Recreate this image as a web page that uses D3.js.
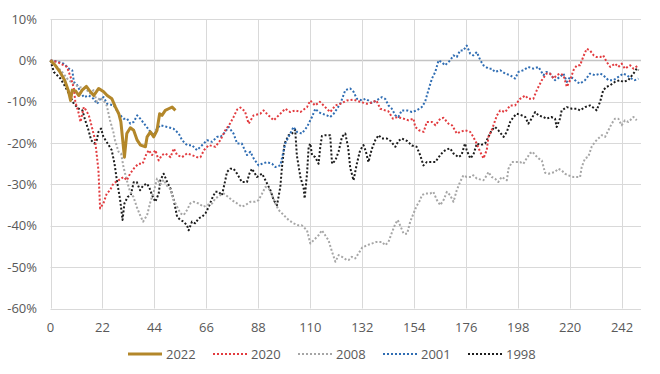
<!DOCTYPE html>
<html>
<head>
<meta charset="utf-8">
<script src="https://cdn.jsdelivr.net/npm/d3@7"></script>
<style>
  body { margin: 0; background: #fff; }
  svg text { font-family: "Open Sans", sans-serif; fill: #595959; }
</style>
</head>
<body>
<div id="chart"></div>
<script>
var width = 660;
var height = 374;

// x ticks (trading days) and y ticks (%)
var xTicks = [0, 22, 44, 66, 88, 110, 132, 154, 176, 198, 220, 242];
var yTicks = [10, 0, -10, -20, -30, -40, -50, -60];

// [day, % from start]
var s2022 = [[0,0],[2,-1.2],[4,-2.8],[6,-4.8],[7.5,-7.2],[8.5,-9.7],[9.2,-7.2],[10.6,-7.4],[12,-8.5],[13.4,-7.2],[15.2,-6.3],[16.9,-7.6],[18.3,-8.5],[20.4,-6.8],[22.5,-7.6],[24,-8.5],[26,-9.3],[27.5,-11.3],[28.9,-12.9],[29.8,-14.9],[31.3,-23.4],[32.3,-17.7],[33.8,-16.3],[35.2,-16.9],[36.7,-19.3],[38.1,-20.5],[40.2,-20.9],[40.9,-18.5],[42.3,-17.3],[43.7,-18.5],[45.1,-16.9],[46.2,-12.9],[47.2,-13.3],[48.6,-12.1],[50,-11.7],[51.5,-11.3],[52.9,-12.1]];

var s2020 = [[0,0],[3,-0.4],[5,-1],[7,-1.6],[8.5,-4],[9.9,-6.8],[10.5,-10],[12,-12.9],[12.7,-14.9],[14.1,-11.3],[15,-12],[16.2,-13.3],[16.8,-14.5],[18.9,-19.3],[20.3,-26.6],[21,-35.8],[22.4,-34.6],[23.8,-32.2],[25.2,-31.4],[26.6,-29.8],[28.8,-29],[30.9,-28.2],[32.3,-29],[33.7,-27.4],[35.5,-26],[37.2,-25],[39,-25],[40.5,-22.8],[41.6,-21.7],[43,-22.9],[44.4,-21.7],[45.8,-24.2],[47.2,-22.9],[48.6,-22.5],[50.8,-23.4],[52.2,-21.3],[53.6,-22.9],[55.7,-23.4],[57.8,-22.5],[59.9,-22.9],[62,-23.4],[63.5,-23.4],[65,-21.7],[67,-20.5],[69.8,-20.9],[71.9,-19.3],[74,-16.9],[76,-15.3],[77.5,-13.7],[79,-11.9],[80.4,-11.4],[82.3,-12.3],[83.9,-15.3],[86,-13.3],[88.8,-12.9],[90.2,-12.1],[92.3,-13.3],[94.5,-14.5],[96.6,-13.3],[99.4,-11.7],[101.5,-12.5],[103.6,-12.1],[105.8,-12.5],[108.6,-11.3],[110,-9.7],[112,-10.9],[114,-10],[116.3,-11.3],[118.4,-12.5],[120.6,-10.9],[122.7,-10.5],[125.5,-9.7],[128.3,-9.5],[131,-10],[134,-10.5],[136,-10.2],[138,-9.7],[139.6,-11.7],[141.7,-12.1],[143,-12.3],[145,-14.1],[147,-13.7],[149.5,-14.1],[151.6,-14.5],[153.7,-14.1],[154.4,-16.1],[156,-16.9],[158,-17.3],[159.3,-14.9],[161.5,-14.9],[163,-15.7],[165,-14.1],[166.4,-13.9],[168.5,-15.3],[170,-15.7],[172,-17.7],[173.4,-17.3],[175.5,-16.9],[177.7,-17.3],[179,-18.5],[180.4,-20.1],[181.9,-22.1],[183.3,-23.7],[184.7,-21.7],[185.4,-18.5],[186.8,-16.9],[189,-13.3],[190.4,-12.1],[192.5,-12.5],[194.6,-10.9],[196.7,-10.9],[198.8,-9.3],[201,-8.5],[202.3,-9.3],[204.4,-9.3],[205.9,-7.2],[208,-4.8],[210,-3.2],[211.5,-3.2],[213,-4.4],[214.3,-3.6],[215.7,-3.2],[217.2,-3.6],[218.6,-6.4],[220,-4.8],[221.4,-2.4],[222.8,-1.2],[224.2,-1.2],[225.5,0.8],[227,2.8],[228.4,2.4],[230,1.2],[231.2,0.8],[232.7,0.8],[234,1.2],[235.5,-0.4],[237,-1.6],[239,-0.8],[240.4,-1.6],[241.8,-0.8],[243.2,-2],[245.4,-1.2],[246.8,-2],[248.9,-1.2]];

var s2008 = [[0,0],[2,-1.2],[4.5,-2.5],[7.6,-4.8],[9.5,-5.5],[11.8,-6.4],[14.7,-6.8],[16.8,-8],[18.2,-7.2],[19.6,-10],[21,-9],[22.4,-9.7],[23.8,-10.9],[25.2,-14.5],[26.6,-17.3],[27.3,-19.3],[28.8,-22.1],[29.9,-22.5],[30.9,-25.8],[32.3,-29],[33.7,-31.8],[35.1,-33],[36.5,-35.4],[37.9,-37.4],[39.2,-39],[40.9,-37.4],[42.3,-34.2],[43.7,-31.8],[45.1,-28.6],[46.5,-30],[47.9,-28.9],[49.4,-30.4],[50.8,-31.2],[52.2,-33.8],[53.6,-35.4],[55,-37],[56.4,-37.4],[57.8,-36.2],[59.2,-34.6],[60.6,-34.2],[62.7,-34.6],[64.8,-35.4],[66.3,-35],[68.4,-34.6],[69.8,-33.4],[71.9,-32.6],[73.3,-32.2],[74.7,-32.8],[76.8,-33.8],[79,-34.6],[81,-35.4],[82.5,-35],[84.6,-34.2],[86.7,-34.2],[88.1,-33.8],[89.6,-32.2],[91,-30.6],[92.4,-31],[93.8,-32.6],[95.2,-34.6],[96.6,-36.2],[98.7,-37.4],[100.8,-38.6],[102.9,-39.4],[105,-39.9],[106.4,-39.9],[108.6,-41.1],[110,-44.3],[111.4,-43.5],[113.5,-42.3],[114.9,-41.1],[116.3,-42.3],[117.7,-43.5],[119.2,-46.3],[120.6,-48.7],[122,-47.1],[123.4,-47.5],[125.5,-48.3],[126.2,-48.3],[127.6,-47.5],[129,-47.9],[130.4,-46.7],[131.9,-45.3],[134,-44.7],[136,-44.3],[138,-43.9],[140.3,-43.9],[141.7,-44.7],[143.1,-43.9],[144.5,-41.7],[146,-39.5],[147,-38.6],[148.1,-40],[149.5,-41.9],[151,-41.9],[152.3,-39],[153.7,-37],[155,-35.2],[156.5,-33.8],[157.2,-32.6],[158.6,-32.2],[160.7,-32.2],[162.1,-31.8],[163.6,-33.8],[165,-35],[166.4,-33.8],[167.8,-31.8],[169.2,-32.6],[170.6,-34.2],[172,-31.4],[173.4,-29.4],[174.8,-27.8],[176.2,-28.2],[178.3,-28.2],[179,-27.8],[180.5,-28.6],[183.3,-29],[184.7,-27.8],[185.4,-27],[186.8,-28.2],[188.2,-28.6],[189.6,-29.4],[191,-28.2],[193.2,-29],[193.9,-26.2],[195.3,-24.6],[197.4,-24.6],[198.8,-24.6],[200.2,-25],[201.6,-23.7],[203,-22.5],[204,-22.1],[205.2,-22.9],[206.6,-23.7],[208,-24.2],[209.4,-27.2],[211,-27.4],[213.5,-27],[215,-26.2],[216.4,-26.6],[217.8,-27.4],[219.2,-27.8],[221.4,-28.2],[222.8,-28.2],[224.2,-28.2],[224.9,-25.8],[226.3,-23.7],[227.7,-23.3],[229.1,-20.9],[230.5,-19.7],[231.9,-18.9],[233.4,-18.1],[234.8,-18.5],[236.2,-16.9],[237.6,-15.3],[239,-14.1],[240.4,-14.1],[241.8,-15.7],[243.2,-14.5],[244.6,-14.9],[245.4,-14.5],[246.8,-13.7],[248.2,-14.5]];

var s2001 = [[0,0],[3,-0.3],[5.6,-0.8],[7.8,-2],[9.2,-2.4],[9.9,-5.2],[11.3,-6],[12.7,-7.6],[14.1,-8.9],[16.2,-8.5],[18.3,-9.3],[19.7,-10.5],[21.1,-9.3],[22.5,-8.9],[24,-10.5],[26.8,-10.9],[28.9,-12.9],[31,-14.1],[32.4,-14.1],[33.8,-15.3],[35.2,-14.9],[36.7,-13.3],[38,-14.1],[40.2,-15.7],[42.3,-17.3],[43.7,-18.1],[45.1,-16.5],[46.5,-15.7],[49.4,-16.1],[52,-16.5],[54.3,-17.7],[55.7,-19.3],[57.8,-20.5],[59.9,-20.5],[62,-21.7],[63.5,-20.9],[66.3,-19.3],[68.4,-19.7],[70.5,-18.5],[72,-18.5],[74,-17.3],[75.4,-16.1],[77.5,-17.7],[79,-20.1],[81,-20.1],[83.2,-22.9],[84.6,-22.1],[86,-23.7],[88.1,-25.4],[89.6,-25],[91.7,-24.6],[93.8,-25],[95.2,-25.8],[97.3,-25.4],[99.4,-20.1],[100.8,-18.5],[102.9,-16.1],[104.3,-17.3],[106.4,-17.7],[108.6,-16.1],[110.7,-13.7],[112.1,-11.7],[113.5,-12.5],[114.9,-12.9],[117,-13.3],[118.4,-13.7],[119.9,-12.9],[121.3,-11.7],[122.7,-10.5],[124.8,-7.2],[126.9,-6.8],[128.3,-7.6],[129.7,-9.3],[131.9,-9.7],[133.3,-9.3],[134.6,-9.7],[136,-10.3],[138,-9.7],[140.3,-8.9],[141.7,-9.3],[143.1,-10.9],[144.5,-11.7],[146,-13.3],[147.3,-13.7],[148.7,-12.1],[151,-12.1],[153,-12.5],[155,-12.1],[157.2,-11.3],[158.6,-10],[160,-7.2],[161.5,-4.4],[162.9,-2.8],[164.3,0],[165.6,-0.4],[167,-1.2],[168.5,-0.4],[169.2,0],[170.6,1.2],[172,0.8],[173.4,2.4],[174.8,2.4],[176.2,3.6],[177.7,1.6],[179,1.2],[180.5,2],[182,0],[183.3,-1.2],[185.4,-2],[186.8,-2],[188.2,-2.8],[190.4,-2.4],[192.5,-3.2],[194.6,-3.6],[196.7,-4.4],[198.1,-2.8],[200.2,-2.4],[202.3,-1.6],[204.4,-2],[206.6,-1.6],[208.7,-3.6],[210,-2.8],[211.5,-3.2],[213.6,-4.8],[215.7,-4],[217.2,-3.2],[218.6,-5.2],[220,-4],[221.4,-4.4],[222.8,-5.2],[224.2,-5.6],[226.3,-4.8],[228.4,-3.2],[230.5,-3.6],[232.7,-3.2],[234,-3.6],[236.2,-4.8],[238.3,-4.8],[240.4,-4],[242.5,-3.2],[244,-3.6],[246,-4.4],[247.4,-4.8],[248.9,-4.4]];

var s1998 = [[0,0],[1.4,-2.8],[2.8,-3.6],[4.2,-4.4],[6.3,-6.4],[8.5,-8.9],[9.9,-10.5],[12,-11.7],[13.5,-12.1],[14.7,-14.5],[16.1,-16.9],[17.2,-19.3],[18.6,-20.1],[19.6,-19.3],[20.3,-17.3],[21.4,-16.5],[22.4,-18.5],[24.2,-20.1],[25.9,-21.7],[27.1,-25],[28.1,-29],[29.5,-33.8],[30.5,-38.6],[31.3,-34.6],[32.7,-33],[34,-32.6],[35.2,-29.5],[36.5,-29.4],[37.9,-31.4],[39.3,-30.2],[40.9,-29.8],[42,-31],[43,-32.6],[44.4,-34.2],[45.8,-32.2],[46.5,-29],[47.9,-27.4],[49.4,-29.4],[50.8,-31],[52.2,-33.8],[53.6,-37.8],[55,-38.6],[56.4,-39],[57.8,-39.9],[58.5,-41.1],[59.9,-39],[61.3,-39.4],[62.7,-38.2],[64.2,-37.8],[65.6,-37],[67,-35.4],[68.4,-33.4],[69.8,-31.8],[71.2,-31.8],[72.6,-32.6],[74,-29],[74.7,-27],[76.1,-26.2],[77.5,-26.2],[79,-27.4],[81,-29.4],[83.2,-29.4],[84.2,-27.4],[85.3,-26.2],[87.4,-28.2],[89.6,-27.4],[91,-29],[93.1,-31.4],[94.5,-33.8],[95.9,-35],[97.3,-30.6],[98,-25.8],[99.1,-20.1],[100.8,-18.1],[102.2,-17.7],[103.6,-16.8],[104.3,-23],[105.8,-28.2],[107.2,-31],[107.6,-33.4],[108.6,-27.4],[109.3,-20.9],[110,-20.1],[110.7,-22.9],[112.1,-23.4],[113.5,-25],[114.2,-21],[114.9,-18.3],[116.3,-18.1],[118.4,-18.1],[119.2,-25],[120.6,-24.2],[122,-22],[123.4,-18.5],[124.8,-17.7],[126,-21],[126.9,-26],[128.3,-29],[129.7,-25],[131.1,-21.7],[132.5,-20.5],[133.5,-22],[134.6,-24.6],[136,-21.5],[137.5,-19.3],[138.9,-18.1],[140.3,-18.9],[142.4,-18.9],[144,-19.5],[146,-20.9],[147.3,-19.5],[148.7,-18.9],[151,-19.5],[153,-20.6],[155,-20.9],[156.5,-22.9],[157.9,-25.4],[159.3,-24.6],[161.5,-24.6],[162.9,-24.6],[165,-22.9],[166.4,-22],[167.8,-21.5],[169.2,-21.3],[170.6,-22.5],[172.7,-23.4],[174,-22.9],[175.5,-20.1],[176.2,-21.7],[177.7,-23.7],[179,-22.9],[180.5,-20.1],[182,-20.5],[184,-20.1],[185.4,-18.5],[186.8,-16.9],[188.2,-16.1],[189.6,-16.9],[191.8,-18.5],[193.2,-17.3],[194.6,-14.9],[196,-13.7],[197.4,-12.9],[199.5,-13.3],[201,-13.7],[202.3,-15.3],[203.7,-14.1],[205.2,-12.5],[206.6,-13.3],[208.7,-13.7],[210,-14.1],[212,-13.7],[213.6,-14.1],[214.3,-16.1],[215.7,-14.1],[216.4,-12.1],[218.6,-11.3],[220.7,-11.7],[222.8,-11.7],[224.2,-12.1],[226.3,-11.3],[228.4,-10.9],[230.5,-11.7],[231.2,-12.1],[232.7,-10],[234,-7.2],[235.5,-6.4],[237,-6],[239,-5.2],[241,-4.8],[242.5,-5.2],[244.6,-4.8],[246.8,-3.2],[248.2,-2],[249,-2.4]];

var names  = ["2022", "2020", "2008", "2001", "1998"];
var colors = ["#b3872a", "#e23b3f", "#a6a6a6", "#2f6db3", "#1c1c1c"];
var series = [s2022, s2020, s2008, s2001, s1998];

var svg = d3.select("#chart").append("svg")
    .attr("width", width)
    .attr("height", height);

var x = d3.scaleLinear().domain([0, 250]).range([50.5, 641]);
var y = d3.scaleLinear().domain([-60, 10]).range([308.5, 19]);

// horizontal gridlines
svg.append("g").selectAll("line").data(yTicks).join("line")
    .attr("x1", x(0)).attr("x2", x(250))
    .attr("y1", d => Math.round(y(d)) + 0.5).attr("y2", d => Math.round(y(d)) + 0.5)
    .style("stroke", d => d == 0 ? "#c4c4c4" : "#d9d9d9")
    .style("stroke-width", d => d == 0 ? 1.5 : 1);

// vertical gridlines
svg.append("g").selectAll("line").data(xTicks).join("line")
    .attr("x1", d => Math.round(x(d)) + 0.5).attr("x2", d => Math.round(x(d)) + 0.5)
    .attr("y1", y(10)).attr("y2", y(-60))
    .style("stroke", "#d9d9d9")
    .style("stroke-width", 1);

// y labels
svg.append("g").selectAll("text").data(yTicks).join("text")
    .attr("x", 37)
    .attr("y", d => y(d))
    .attr("dy", "0.35em")
    .attr("text-anchor", "end")
    .style("font-size", "13px")
    .text(d => d + "%");

// x labels
svg.append("g").selectAll("text").data(xTicks).join("text")
    .attr("x", d => x(d))
    .attr("y", 327)
    .attr("dy", "0.35em")
    .attr("text-anchor", "middle")
    .style("font-size", "13px")
    .text(d => d);

var line = d3.line().x(d => x(d[0])).y(d => y(d[1]));

// draw dotted series first, 2022 on top
for (let i = series.length - 1; i >= 0; i--) {
  svg.append("path")
    .attr("d", line(series[i]))
    .style("fill", "none")
    .style("stroke", colors[i])
    .style("stroke-width", i == 0 ? 3 : 2)
    .style("stroke-linejoin", "round")
    .style("stroke-dasharray", i == 0 ? null : "2,2");
}

// legend
var legend = svg.append("g").selectAll("g").data(names).join("g")
    .attr("transform", (d, i) => "translate(" + (128 + i * 85) + ",354)");
legend.append("line")
    .attr("x1", 0).attr("x2", 34)
    .attr("y1", 0).attr("y2", 0)
    .style("stroke", (d, i) => colors[i])
    .style("stroke-width", (d, i) => i == 0 ? 3 : 2)
    .style("stroke-dasharray", (d, i) => i == 0 ? null : "2,2");
legend.append("text")
    .attr("x", 38)
    .attr("y", 0)
    .attr("dy", "0.35em")
    .style("font-size", "13px")
    .text(d => d);
</script>
</body>
</html>
